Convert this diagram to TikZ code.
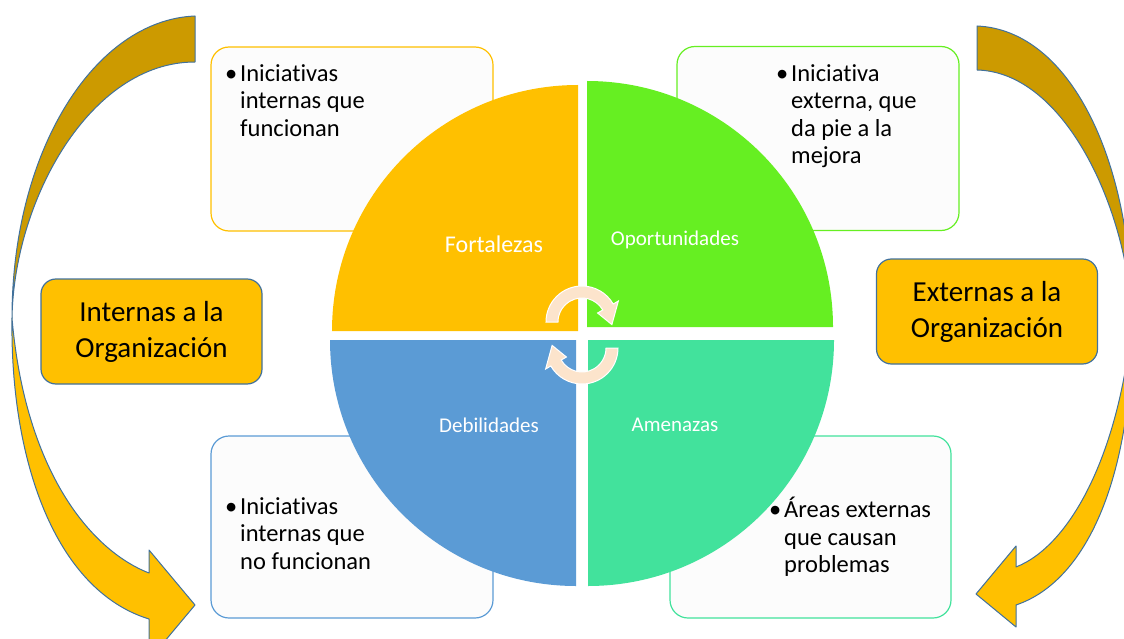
\documentclass[tikz,border=0pt]{standalone}
\usepackage{fontspec}
\setmainfont{Carlito}[RawFeature={-liga;-clig;-calt;-rlig;-dlig}]
\usetikzlibrary{positioning}

\definecolor{oro}{HTML}{FFC000}
\definecolor{oroOscuro}{HTML}{CC9A00}
\definecolor{borde}{HTML}{41719C}
\definecolor{verde}{HTML}{66EF22}
\definecolor{turquesa}{HTML}{42E29C}
\definecolor{azul}{HTML}{5B9BD5}
\definecolor{durazno}{HTML}{FCE4CC}
\definecolor{caja}{HTML}{FCFCFC}

\begin{document}
\begin{tikzpicture}[
  x=1pt, y=-1pt,
  nota/.style={draw, fill=caja, rounded corners=18pt, line width=1.2pt,
    minimum width=282pt, minimum height=184pt, inner sep=0pt},
  texto/.style={anchor=north west, align=left, inner sep=0pt,
    font=\fontsize{24.5}{27.5}\selectfont},
  lado/.style={draw=borde, fill=oro, rounded corners=15pt, line width=1.2pt,
    minimum width=221pt, minimum height=105pt, align=center,
    font=\fontsize{29}{36}\selectfont},
  etiq/.style={text=white, inner sep=0pt, font=\fontsize{21}{24}\selectfont},
  flecha/.style={draw=borde, line width=1pt, line join=round},
  giro/.style={fill=durazno, draw=white, line width=1pt}
]
\useasboundingbox (0,0) rectangle (1124,639);
\clip (0,0) rectangle (1124,639);

% flechas curvas laterales
\path[flecha, fill=oroOscuro] (195,16) .. controls (95,20) and (12,150) .. (12,318)
  .. controls (14,200) and (90,62) .. (195,62) -- cycle;
\path[flecha, fill=oro] (12,318) .. controls (10,460) and (55,590) .. (149,619)
  -- (149,660) -- (195,605) -- (149,550) -- (149,573)
  .. controls (90,550) and (25,470) .. (12,318) -- cycle;
\path[flecha, fill=oroOscuro] (977,26) .. controls (1070,30) and (1132,160) .. (1132,320)
  .. controls (1128,210) and (1065,72) .. (977,70) -- cycle;
\path[flecha, fill=oro] (1132,320) .. controls (1133,470) and (1090,580) .. (1016,605)
  -- (1016,627) -- (976,594) -- (1016,546) -- (1016,567)
  .. controls (1072,545) and (1120,450) .. (1132,320) -- cycle;

\node[lado] (internas) at (151.5,331.5) {Internas a la\\Organización};
\node[lado] (externas) at (987,311.5) {Externas a la\\Organización};

% cajas de texto
\node[nota, draw=oro] (cajaF) at (352,139) {};
\node[nota, draw=verde] (cajaO) at (818,138.5) {};
\node[nota, draw=azul, minimum height=182pt] (cajaD) at (352,527) {};
\node[nota, draw=turquesa, minimum height=182pt, minimum width=281pt] (cajaA) at (810.5,527) {};

\node[texto] (txtF) at (240,64) {\llap{\textbullet\hspace{3pt}}Iniciativas\\internas que\\funcionan};
\node[texto] (txtO) at (791,64) {\llap{\textbullet\hspace{3pt}}Iniciativa\\externa, que\\da pie a la\\mejora};
\node[texto] (txtD) at (240,497) {\llap{\textbullet\hspace{3pt}}Iniciativas\\internas que\\no funcionan};
\node[texto] (txtA) at (784,497) {\llap{\textbullet\hspace{3pt}}Áreas externas\\que causan\\problemas};

% circulo en cuatro sectores
\fill[oro] (578,331) -- +(-246,0) arc[start angle=180, end angle=270, radius=246] -- cycle;
\fill[verde] (587,327) -- +(0,-246) arc[start angle=270, end angle=360, radius=246] -- cycle;
\fill[azul] (576,340) -- +(-246,0) arc[start angle=180, end angle=90, radius=246] -- cycle;
\fill[turquesa] (588,340) -- +(246,0) arc[start angle=0, end angle=90, radius=246] -- cycle;

\node[etiq, font=\fontsize{24}{27}\selectfont] (fortalezas) at (494,244) {Fortalezas};
\node[etiq] (oportunidades) at (675,240) {Oportunidades};
\node[etiq] (debilidades) at (489,425) {Debilidades};
\node[etiq] (amenazas) at (675,425) {Amenazas};

% flechas de giro en el centro
\begin{scope}[shift={(582,322)}]
  \path[giro] (180:36) arc[start angle=180, end angle=330, radius=36]
    -- (330:42) -- (5:30) -- (330:18) -- (330:24)
    arc[start angle=330, end angle=180, radius=24] -- cycle;
\end{scope}
\begin{scope}[rotate around={180:(582,335)}, shift={(582,322)}]
  \path[giro] (180:36) arc[start angle=180, end angle=330, radius=36]
    -- (330:42) -- (5:30) -- (330:18) -- (330:24)
    arc[start angle=330, end angle=180, radius=24] -- cycle;
\end{scope}
\end{tikzpicture}
\end{document}
